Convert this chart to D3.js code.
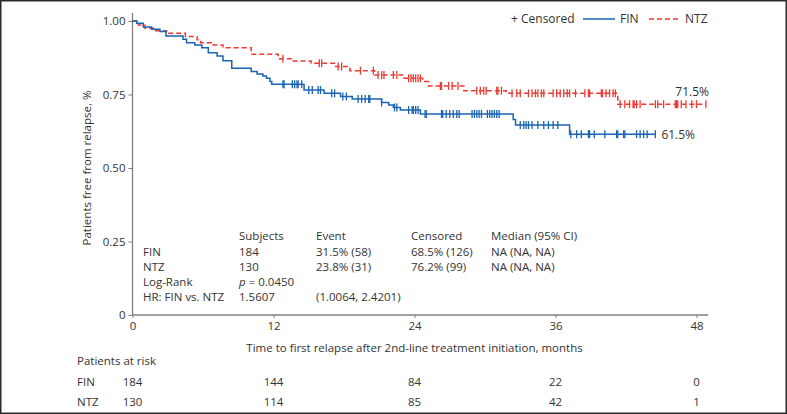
<!DOCTYPE html>
<html><head><meta charset="utf-8">
<script src="https://cdn.jsdelivr.net/npm/d3@7"></script>
<style>
html,body{margin:0;padding:0;background:#fff;}
svg{display:block;font-family:"Open Sans","Noto Sans",sans-serif;}
</style></head>
<body>
<svg id="c" width="787" height="414"></svg>
<script>
// ---------- DATA ----------
const xTicks = [0, 12, 24, 36, 48];
const yTicks = [0, 0.25, 0.5, 0.75, 1.0];
const yTickLabels = ["0", "0.25", "0.50", "0.75", "1.00"];

// FIN: event steps [time (months), survival]
const finSteps = [
  [0, 1.0], [0.36, 0.992], [0.92, 0.980], [1.63, 0.972], [2.34, 0.964], [2.85, 0.949],
  [4.3, 0.938], [4.6, 0.926], [5.3, 0.918], [5.9, 0.909], [6.45, 0.892], [7.2, 0.881],
  [7.7, 0.865], [8.45, 0.839], [10.1, 0.828], [10.6, 0.820], [11.1, 0.813], [11.4, 0.805],
  [11.7, 0.794], [11.85, 0.785], [14.6, 0.765], [16.3, 0.754], [17.7, 0.743], [18.7, 0.735],
  [21.2, 0.723], [21.8, 0.714], [22.2, 0.706], [22.8, 0.697], [24.5, 0.684], [32.4, 0.665],
  [32.6, 0.646], [37.2, 0.615]
];
const finCensor = [12.8, 12.9, 13.6, 13.8, 14.0, 14.1, 14.4, 15.0, 15.3, 15.8, 16.0, 16.95, 17.2,
  17.9, 18.2, 19.2, 19.5, 19.8, 20.1, 20.2, 21.2, 22.3, 22.5, 23.5, 23.8, 23.9, 24.1, 24.3, 24.9,
  25.0, 26.3, 26.4, 26.7, 27.0, 27.3, 27.6, 27.8, 28.9, 29.1, 29.3, 29.5, 29.7, 30.2, 30.4, 30.6,
  30.8, 31.0, 31.2, 33.0, 33.3, 33.5, 33.7, 34.0, 34.5, 35.0, 35.4, 35.8, 36.2, 37.3, 37.8, 38.2,
  38.8, 38.9, 39.3, 40.2, 41.2, 41.3, 41.8, 41.9, 42.9, 43.2, 43.5, 43.8, 44.5];
const finEnd = 44.5;

// NTZ
const ntzSteps = [
  [0, 1.0], [0.5, 0.986], [1.06, 0.975], [1.8, 0.967], [2.9, 0.958], [4.5, 0.947], [5.5, 0.936],
  [5.8, 0.926], [6.7, 0.918], [7.7, 0.909], [10.1, 0.887], [12.4, 0.872], [13.6, 0.864],
  [15.2, 0.856], [17.2, 0.845], [18.5, 0.831], [20.6, 0.816], [23.0, 0.805], [24.7, 0.794],
  [25.2, 0.779], [28.2, 0.763], [31.8, 0.754], [41.3, 0.717]
];
const ntzCensor = [12.8, 15.9, 16.1, 17.5, 17.8, 19.4, 20.5, 20.9, 21.2, 21.4, 22.2, 22.5, 23.5,
  23.7, 23.9, 24.1, 24.3, 24.5, 26.2, 26.3, 26.9, 27.2, 27.7, 29.3, 29.6, 29.9, 30.1, 31.0, 31.1,
  31.4, 32.3, 32.7, 33.0, 33.7, 34.0, 34.3, 34.5, 34.8, 35.0, 35.8, 36.1, 36.4, 36.7, 37.0, 37.2,
  37.7, 38.5, 38.8, 38.9, 39.9, 40.0, 40.3, 40.6, 40.9, 41.1, 41.5, 41.9, 42.3, 42.6, 42.7, 42.9,
  43.2, 44.5, 44.7, 45.2, 46.2, 46.3, 46.4, 46.7, 47.1, 47.6, 48.0, 48.8];
const ntzEnd = 48.8;

const endLabels = ["71.5%", "61.5%"];

const statHeader = ["", "Subjects", "Event", "Censored", "Median (95% CI)"];
const statFIN = ["FIN", "184", "31.5% (58)", "68.5% (126)", "NA (NA, NA)"];
const statNTZ = ["NTZ", "130", "23.8% (31)", "76.2% (99)", "NA (NA, NA)"];
const statLogRank = ["Log-Rank", "p = 0.0450"];
const statHR = ["HR: FIN vs. NTZ", "1.5607", "(1.0064, 2.4201)"];

const riskTimes = [0, 12, 24, 36, 48];
const riskFIN = [184, 144, 84, 22, 0];
const riskNTZ = [130, 114, 85, 42, 1];

// ---------- CHART ----------
const svg = d3.select("#c");
const W = 787, H = 414;
const BLUE = "#1a64b4", RED = "#ee3a33", TXT = "#333", AX = "#808080";
const FS = 11.5;

svg.append("rect").attr("x", 0.75).attr("y", 0.75).attr("width", W - 1.5).attr("height", H - 1.5)
  .attr("fill", "#fff").attr("stroke", "#2a2a2a").attr("stroke-width", 1.5);

const x = d3.scaleLinear().domain([0, 48]).range([132.5, 696.5]);
const y = d3.scaleLinear().domain([0, 1]).range([315, 21]);
const xMax = 49, yMax = 1.027;

// axes
const gx = svg.append("g").attr("transform", `translate(0,${y(0)})`)
  .call(d3.axisBottom(x).tickValues(xTicks).tickSize(3).tickPadding(4).tickFormat(d3.format("d")));
gx.select(".domain").attr("d", `M${x(0)},0H${x(xMax)}`);
const gy = svg.append("g").attr("transform", `translate(${x(0)},0)`)
  .call(d3.axisLeft(y).tickValues(yTicks).tickSize(4).tickPadding(3).tickFormat((d, i) => yTickLabels[i]));
gy.select(".domain").attr("d", `M0,${y(0)}V${y(yMax)}`);
[gx, gy].forEach(g => {
  g.selectAll(".domain").attr("stroke", AX).attr("stroke-width", 1.3);
  g.selectAll(".tick line").attr("stroke", AX);
  g.selectAll(".tick text").attr("fill", TXT).attr("font-size", FS)
    .attr("font-family", '"Open Sans","Noto Sans",sans-serif');
});

svg.append("text").attr("x", (x(0) + x(48)) / 2).attr("y", 352).attr("text-anchor", "middle")
  .attr("font-size", FS).attr("fill", TXT)
  .text("Time to first relapse after 2nd-line treatment initiation, months");
svg.append("text").attr("transform", `translate(91,${y(0.5)}) rotate(-90)`).attr("text-anchor", "middle")
  .attr("font-size", FS).attr("fill", TXT).text("Patients free from relapse, %");

// survival lookup
function survAt(steps, t) {
  let s = steps[0][1];
  for (const st of steps) { if (st[0] <= t) s = st[1]; else break; }
  return s;
}
function drawSeries(steps, censor, end, color, dash) {
  const pts = steps.concat([[end, steps[steps.length - 1][1]]]);
  const line = d3.line().x(d => x(d[0])).y(d => y(d[1])).curve(d3.curveStepAfter);
  svg.append("path").attr("d", line(pts)).attr("fill", "none").attr("stroke", color)
    .attr("stroke-width", 1.5).attr("stroke-dasharray", dash);
  svg.append("g").selectAll("line").data(censor).join("line")
    .attr("x1", d => x(d)).attr("x2", d => x(d))
    .attr("y1", d => y(survAt(steps, d)) - 4).attr("y2", d => y(survAt(steps, d)) + 4)
    .attr("stroke", color).attr("stroke-width", 1.3);
}
drawSeries(ntzSteps, ntzCensor, ntzEnd, RED, "5,3");
drawSeries(finSteps, finCensor, finEnd, BLUE, null);

// end labels
svg.append("text").attr("x", 709).attr("y", y(survAt(ntzSteps, ntzEnd)) - 8.5).attr("text-anchor", "end")
  .attr("font-size", 12).attr("fill", TXT).text(endLabels[0]);
svg.append("text").attr("x", x(finEnd) + 6).attr("y", y(survAt(finSteps, finEnd)) + 4.5)
  .attr("font-size", 12).attr("fill", TXT).text(endLabels[1]);

// legend
const lg = svg.append("g").attr("font-size", 12).attr("fill", TXT);
lg.append("text").attr("x", 511).attr("y", 23).text("+ Censored");
lg.append("line").attr("x1", 583).attr("x2", 615).attr("y1", 19).attr("y2", 19).attr("stroke", BLUE).attr("stroke-width", 1.5);
lg.append("text").attr("x", 620).attr("y", 23).text("FIN");
lg.append("line").attr("x1", 649).attr("x2", 681).attr("y1", 19).attr("y2", 19).attr("stroke", RED).attr("stroke-width", 1.5).attr("stroke-dasharray", "5,3");
lg.append("text").attr("x", 685).attr("y", 23).text("NTZ");

// stats table
const colX = [143, 239, 316, 411, 491];
const rowY = [240, 256, 271, 286, 301];
const tb = svg.append("g").attr("font-size", FS).attr("fill", TXT);
[statHeader, statFIN, statNTZ, statLogRank, statHR].forEach((row, r) => {
  row.forEach((cell, c) => {
    if (!cell) return;
    const t = tb.append("text").attr("x", colX[c]).attr("y", rowY[r]);
    if (cell.startsWith("p = ")) {
      t.append("tspan").attr("font-style", "italic").text("p");
      t.append("tspan").text(cell.slice(1));
    } else t.text(cell);
  });
});

// risk table
const rk = svg.append("g").attr("font-size", FS).attr("fill", TXT);
rk.append("text").attr("x", 77).attr("y", 365).text("Patients at risk");
[["FIN", riskFIN, 386], ["NTZ", riskNTZ, 406]].forEach(([lab, vals, yy]) => {
  rk.append("text").attr("x", 77).attr("y", yy).text(lab);
  rk.selectAll(null).data(vals).join("text").attr("x", (d, i) => x(riskTimes[i])).attr("y", yy)
    .attr("text-anchor", "middle").text(d => d);
});
</script>
</body></html>
